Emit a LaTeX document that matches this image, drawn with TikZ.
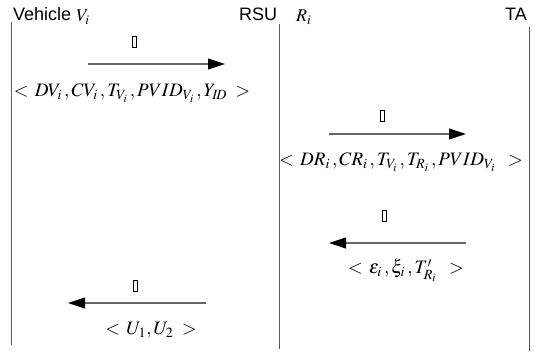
\documentclass[tikz,border=0pt]{standalone}
\usepackage{mathptmx}
\usepackage{fontspec}
\setsansfont{Liberation Sans}
\usetikzlibrary{arrows.meta}
\begin{document}
\begin{tikzpicture}[x=1pt,y=-1pt,
  head/.style={font=\sffamily\fontsize{18}{20}\selectfont, inner sep=0pt, anchor=base west},
  var/.style={font=\fontsize{18}{20}\selectfont, inner sep=0pt, anchor=base west},
  life/.style={draw=black!65, line width=1pt},
  msg/.style={draw=black!60, line width=1.1pt, -{Triangle[length=17pt,width=11pt,color=black]}},
  lbl/.style={font=\fontsize{19}{21}\selectfont, inner sep=0pt, anchor=base},
  tofu/.style={draw=black, line width=0.6pt, minimum width=3.8pt, minimum height=11pt, inner sep=0pt}]
\useasboundingbox (0,0) rectangle (546,352);
% headers
\node[head] (veh) at (13,21) {Vehicle};
\node[var] (vi) at (76,22) {$V_i$};
\node[head] (rsu) at (239,21) {RSU};
\node[var] (ri) at (296,22) {$R_i$};
\node[head] (ta) at (505,21) {TA};
% lifelines
\coordinate (vt) at (11,22); \coordinate (vb) at (11,345);
\coordinate (rt) at (279,24); \coordinate (rb) at (279,349);
\coordinate (tt) at (529,27); \coordinate (tb) at (529,351);
\draw[life] (vt) -- (vb);
\draw[life] (rt) -- (rb);
\draw[life] (tt) -- (tb);
% message 1
\coordinate (m1a) at (88,64); \coordinate (m1b) at (225,64);
\draw[msg] (m1a) -- (m1b);
\node[tofu] (t1) at (134,42) {};
\node[lbl] (l1) at (132,97) {$<\,DV_i\,,CV_i\,,T_{V_i}\,,PVID_{V_i}\,,Y_{I\!D}\;>$};
% message 2
\coordinate (m2a) at (329,134); \coordinate (m2b) at (466,134);
\draw[msg] (m2a) -- (m2b);
\node[tofu] (t2) at (382,116) {};
\node[lbl] (l2) at (401,166) {$<\,DR_i\,,CR_i\,,T_{V_i}\,,T_{R_i}\,,PVID_{V_i}\;\;>$};
% message 3
\coordinate (m3a) at (466,243); \coordinate (m3b) at (329,243);
\draw[msg] (m3a) -- (m3b);
\node[tofu] (t3) at (384,216) {};
\node[lbl] (l3) at (406,274) {$<\,\varepsilon_i\,,\xi_i\,,T'_{R_i}\;\;>$};
% message 4
\coordinate (m4a) at (206,303); \coordinate (m4b) at (68,303);
\draw[msg] (m4a) -- (m4b);
\node[tofu] (t4) at (135,286) {};
\node[lbl] (l4) at (151,335) {$<\,U_1,U_2\;>$};
\end{tikzpicture}
\end{document}
